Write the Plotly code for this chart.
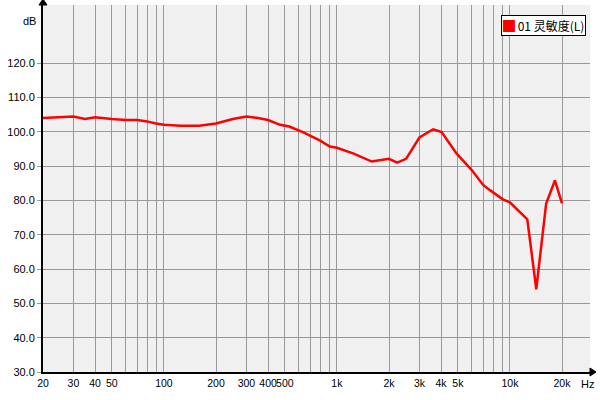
import numpy as np
import plotly.graph_objects as go

# Frequency response data
freq_hz = [20, 30, 35, 40, 50, 60, 70, 80, 90, 100,
           125, 160, 200, 250, 300, 350, 400, 470, 530, 640,
           800, 910, 1000, 1250, 1590, 2000, 2230, 2510, 3000, 3600,
           4030, 4920, 6000, 7000, 7700, 9100, 10000, 12600, 14200, 16200,
           18200, 20000]
spl_db = [104.0, 104.4, 103.7, 104.2, 103.7, 103.4, 103.4, 103.0, 102.4, 102.0,
          101.7, 101.7, 102.4, 103.7, 104.4, 104.0, 103.4, 102.0, 101.5, 99.8,
          97.4, 95.7, 95.3, 93.6, 91.3, 92.1, 91.0, 92.1, 98.3, 100.7,
          99.9, 93.6, 88.9, 84.5, 82.9, 80.3, 79.4, 74.5, 54.1, 79.1,
          85.8, 79.1]
series_name = "01 灵敏度(L)"

x_grid = [20, 30, 40, 50, 60, 70, 80, 90,
          100, 200, 300, 400, 500, 600, 700, 800, 900,
          1000, 2000, 3000, 4000, 5000, 6000, 7000, 8000, 9000,
          10000, 20000]
x_labels = {20: "20", 30: "30", 40: "40", 50: "50", 100: "100", 200: "200",
            300: "300", 400: "400", 500: "500", 1000: "1k", 2000: "2k",
            3000: "3k", 4000: "4k", 5000: "5k", 10000: "10k", 20000: "20k"}
y_ticks = [30, 40, 50, 60, 70, 80, 90, 100, 110, 120]

W, H = 600, 400
ML, MR, MT, MB = 43, 10, 5, 28
PW, PH = W - ML - MR, H - MT - MB
FONT = "Liberation Sans, DejaVu Sans, sans-serif"

fig = go.Figure()
fig.add_trace(go.Scatter(
    x=freq_hz, y=spl_db, mode="lines", name=series_name,
    line=dict(color="#ff0000", width=2.5), showlegend=False,
    hoverinfo="x+y"))

grid_col = "#999999"
fig.update_layout(
    width=W, height=H,
    margin=dict(l=ML, r=MR, t=MT, b=MB, autoexpand=False),
    paper_bgcolor="white", plot_bgcolor="#f0f0f0",
    font=dict(family=FONT, size=11, color="black"),
    xaxis=dict(
        type="log", range=[np.log10(20), np.log10(20) + PW / 173.0],
        tickvals=x_grid, ticktext=[x_labels.get(v, "") for v in x_grid],
        showgrid=True, gridcolor=grid_col, gridwidth=1,
        showline=True, linecolor="black", linewidth=2,
        ticks="", zeroline=False, tickfont=dict(size=10.5),
        tickangle=0, automargin=False,
    ),
    yaxis=dict(
        range=[30, 30 + PH / 3.433],
        tickvals=y_ticks, ticktext=[f"{v:.1f}" for v in y_ticks],
        showgrid=True, gridcolor=grid_col, gridwidth=1,
        showline=True, linecolor="black", linewidth=2,
        ticks="outside", ticklen=4, tickcolor=grid_col,
        zeroline=False, tickfont=dict(size=11), automargin=False,
    ),
    showlegend=False,
)

# axis arrows
ax = 1.0 / PW
ay = 1.0 / PH
fig.add_shape(type="path", xref="paper", yref="paper",
              path=f"M {-4*ax} {1} L {4*ax} {1} L 0 {1+6*ay} Z",
              fillcolor="black", line=dict(color="black", width=1))
fig.add_shape(type="path", xref="paper", yref="paper",
              path=f"M {1} {-4*ay} L {1} {4*ay} L {1+6*ax} 0 Z",
              fillcolor="black", line=dict(color="black", width=1))

# axis unit labels
fig.add_annotation(text="dB", xref="paper", yref="paper",
                   x=(29 - ML) / PW, y=(H - MB - 21) / PH,
                   xanchor="center", yanchor="middle",
                   showarrow=False, font=dict(size=11, family=FONT))
fig.add_annotation(text="Hz", xref="paper", yref="paper",
                   x=(587 - ML) / PW, y=(H - MB - 384) / PH,
                   xanchor="center", yanchor="middle",
                   showarrow=False, font=dict(size=11, family=FONT))

# legend box
fig.add_annotation(
    text="<span style='color:#ff0000'>█</span> " + series_name,
    xref="paper", yref="paper", xanchor="right", yanchor="top",
    x=(586 - ML) / PW, y=(H - MB - 15) / PH,
    showarrow=False, bgcolor="white", bordercolor="black", borderwidth=1,
    borderpad=1, font=dict(size=12, family="Noto Sans CJK SC, sans-serif"))

fig.write_html("out.html", config={"displayModeBar": False},
               post_script="document.body.style.margin='0';document.body.style.padding='0';")
